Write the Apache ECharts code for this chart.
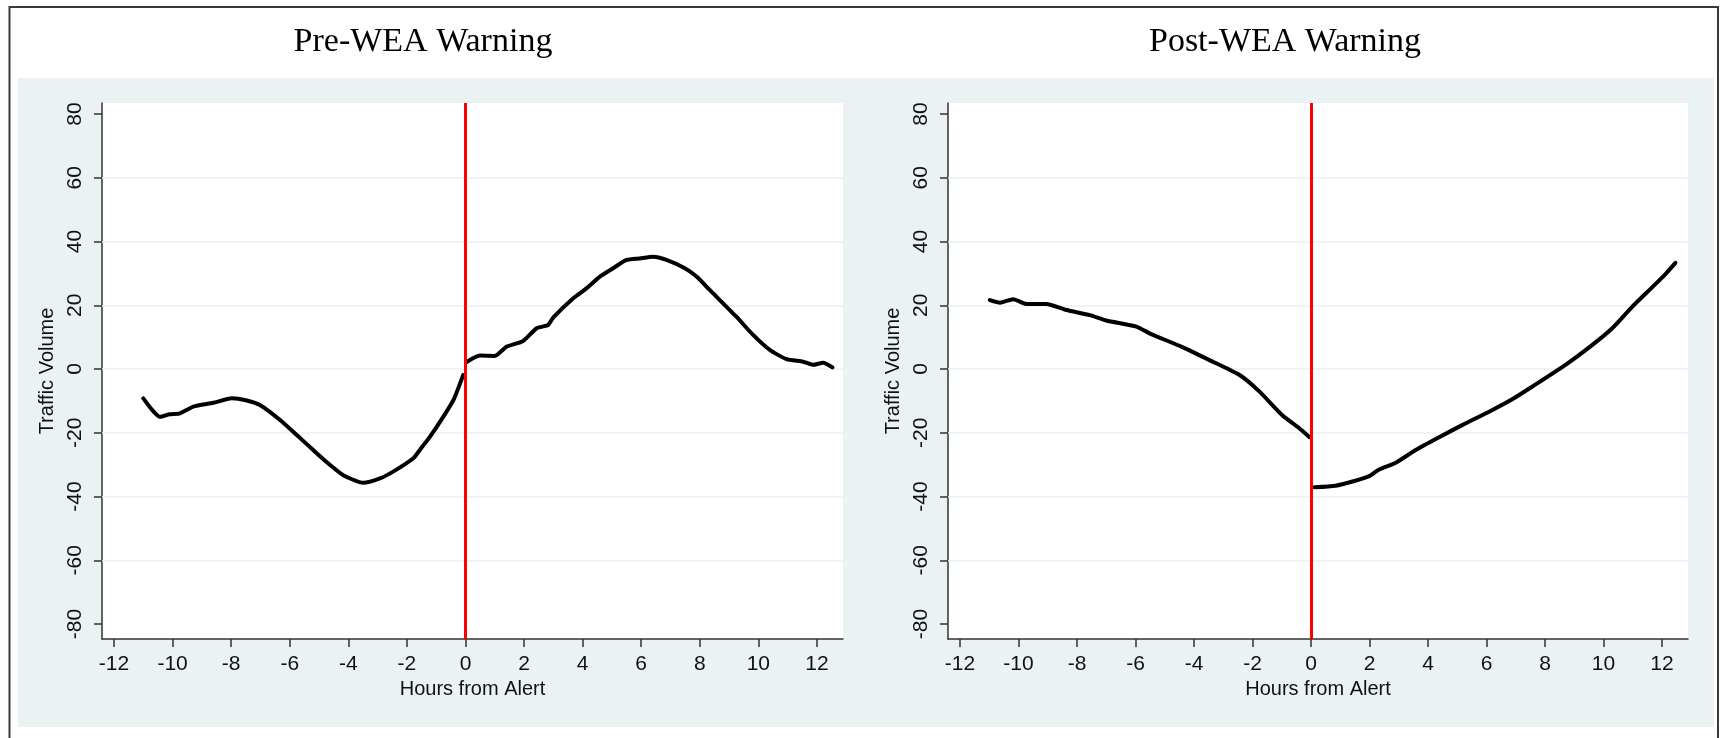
<!DOCTYPE html>
<html><head><meta charset="utf-8">
<script src="https://cdn.jsdelivr.net/npm/echarts@6/dist/echarts.min.js"></script>
<style>html,body{margin:0;padding:0;background:#fff}#c{width:1725px;height:738px}</style>
</head><body><div id="c"></div>
<script>
// ---- data ----
const panelTitles = ['Pre-WEA Warning', 'Post-WEA Warning'];
const xAxisTitle = 'Hours from Alert';
const yAxisTitle = 'Traffic Volume';
const xTicks = [-12, -10, -8, -6, -4, -2, 0, 2, 4, 6, 8, 10, 12];
const yTicks = [-80, -60, -40, -20, 0, 20, 40, 60, 80];
const gridValues = [-60, -40, -20, 0, 20, 40, 60];
const alertHour = 0;

// Pre-WEA Warning panel: before and after the alert
const preBefore = [
  [-11.0, -9.2], [-10.7, -12.8], [-10.43, -15.0], [-10.1, -14.2], [-9.75, -13.9],
  [-9.29, -11.8], [-8.61, -10.6], [-7.98, -9.2], [-7.5, -9.8], [-7.02, -11.3],
  [-6.33, -16.0], [-5.75, -20.8], [-5.2, -25.4], [-4.7, -29.5], [-4.17, -33.3],
  [-3.49, -35.7], [-2.92, -34.3], [-2.47, -32.2], [-1.78, -28.0], [-1.56, -25.4],
  [-1.21, -21.2], [-0.76, -15.0], [-0.4, -9.5], [-0.08, -1.9]
];
const preAfter = [
  [0.04, 2.2], [0.49, 4.2], [1.0, 4.1], [1.4, 7.0], [1.97, 8.8], [2.43, 12.8],
  [2.82, 13.8], [3.0, 16.2], [3.68, 22.2], [4.13, 25.3], [4.59, 29.0], [5.04, 31.6],
  [5.5, 34.2], [5.95, 34.7], [6.41, 35.2], [6.86, 34.2], [7.49, 31.6], [7.89, 29.0],
  [8.34, 24.8], [9.25, 16.4], [9.82, 10.7], [10.39, 6.0], [10.96, 3.1], [11.53, 2.3],
  [11.87, 1.3], [12.21, 2.0], [12.53, 0.5]
];
// Post-WEA Warning panel
const postBefore = [
  [-10.98, 21.6], [-10.63, 20.8], [-10.18, 21.9], [-9.72, 20.4], [-9.05, 20.4],
  [-8.36, 18.5], [-7.56, 16.9], [-7.0, 15.2], [-5.97, 13.3], [-5.52, 11.2],
  [-4.38, 6.8], [-3.47, 2.8], [-2.44, -1.9], [-1.76, -7.1], [-0.97, -14.6],
  [-0.4, -18.6], [-0.05, -21.4]
];
const postAfter = [
  [0.12, -37.1], [0.84, -36.6], [1.42, -35.3], [1.99, -33.6], [2.33, -31.5],
  [2.9, -29.4], [3.58, -25.4], [4.38, -21.4], [5.17, -17.6], [6.09, -13.4],
  [6.88, -9.5], [7.57, -5.5], [8.7, 1.3], [9.61, 7.5], [10.3, 12.8],
  [10.98, 19.5], [11.66, 25.6], [12.12, 29.8], [12.46, 33.3]
];
const panelSeries = [[preBefore, preAfter], [postBefore, postAfter]];

// ---- chart ----
const SANS = 'Liberation Sans, Arial, sans-serif';
const SERIF = 'Liberation Serif, Times New Roman, serif';
const INK = '#111';
const AXIS = '#333';
const BG = '#EAF2F3';
const gridLefts = [102, 948];
const gridWidths = [741, 740];
const titleCenters = [418, 1280];

const chart = echarts.init(document.getElementById('c'), null, {renderer: 'canvas'});

const option = {
  backgroundColor: '#fff',
  animation: false,
  title: panelTitles.map((t, i) => ({
    text: t, left: titleCenters[i], top: 20, textAlign: 'center',
    textStyle: {fontFamily: SERIF, fontSize: 34, fontWeight: 'normal', color: '#000'}
  })),
  graphic: {elements: [
    {type: 'rect', z: -10, silent: true, shape: {x: 18, y: 78, width: 1696, height: 649}, style: {fill: BG}},
    {type: 'rect', z: -10, silent: true, shape: {x: 9.5, y: 7, width: 1708.5, height: 745}, style: {fill: 'none', stroke: '#3a3a3a', lineWidth: 2}}
  ]},
  grid: gridLefts.map((l, i) => ({
    left: l, top: 103, width: gridWidths[i], height: 536,
    show: true, backgroundColor: '#fff', borderWidth: 0
  })),
  xAxis: [0, 1].map(i => ({
    type: 'value', gridIndex: i, min: -12.41, max: 12.89,
    name: xAxisTitle, nameLocation: 'middle', nameGap: 40,
    nameTextStyle: {fontFamily: SANS, fontSize: 20, color: INK},
    axisLine: {show: true, onZero: false, lineStyle: {color: AXIS, width: 1.5}},
    axisTick: {show: true, length: 8, customValues: xTicks, lineStyle: {color: AXIS, width: 1.5}},
    axisLabel: {customValues: xTicks, margin: 15, fontFamily: SANS, fontSize: 21, color: INK},
    splitLine: {show: false}
  })),
  yAxis: [0, 1].map(i => ({
    type: 'value', gridIndex: i, min: -84.7, max: 83.45,
    name: yAxisTitle, nameLocation: 'middle', nameGap: 45,
    nameTextStyle: {fontFamily: SANS, fontSize: 20, color: INK},
    axisLine: {show: true, onZero: false, lineStyle: {color: AXIS, width: 1.5}},
    axisTick: {show: true, length: 8, customValues: yTicks, lineStyle: {color: AXIS, width: 1.5}},
    axisLabel: {customValues: yTicks, rotate: 90, margin: 16, fontFamily: SANS, fontSize: 21, color: INK},
    splitLine: {show: false}
  })),
  series: []
};

panelSeries.forEach((segs, i) => {
  option.series.push({
    type: 'line', xAxisIndex: i, yAxisIndex: i, data: [], silent: true,
    markLine: {
      silent: true, z: 1, symbol: ['none', 'none'], label: {show: false},
      lineStyle: {color: BG, width: 1.5, type: 'solid'},
      data: gridValues.map(v => ({yAxis: v}))
    }
  });
  segs.forEach((seg, k) => {
    const s = {
      type: 'line', xAxisIndex: i, yAxisIndex: i, data: seg, showSymbol: false,
      smooth: 0.2, silent: true, z: 3,
      lineStyle: {color: '#000', width: 4, cap: 'round', join: 'round'}
    };
    if (k === 1) {
      s.markLine = {
        silent: true, z: 6, symbol: ['none', 'none'], label: {show: false},
        lineStyle: {color: '#ff0000', width: 3, type: 'solid'},
        data: [{xAxis: alertHour}]
      };
    }
    option.series.push(s);
  });
});

chart.setOption(option);
</script>
</body></html>
